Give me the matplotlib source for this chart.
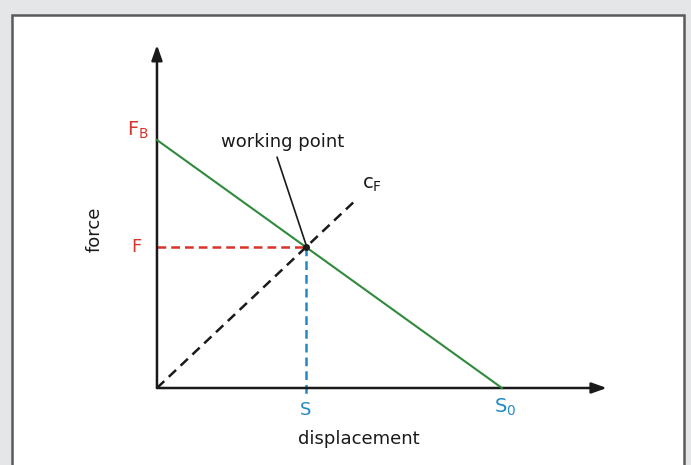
import matplotlib.pyplot as plt
from matplotlib.patches import Rectangle

# characteristic line values (normalised: F_B = 1, s_0 = 1)
f_block = 1.0
s_zero = 1.0
s_work = 0.432
f_work = 0.568
cf_end = 0.574          # where the dashed spring line c_F stops
axis_x_end = 1.304
axis_y_end = 1.383
pointer_start = (0.348, 0.931)   # upper end of the "working point" pointer

red = "#d9342b"
green = "#2f8a3c"
blue = "#2389c4"
ink = "#1a1a1a"

fig = plt.figure(figsize=(6.91, 4.65), dpi=100, facecolor="#e5e6e8")
ax = fig.add_axes([0, 0, 1, 1])
ax.set_xlim(-0.455, 1.548)
ax.set_ylim(-0.3105, 1.5645)
ax.axis("off")

# white panel with dark border
panel = Rectangle((12 / 691, -0.05), 672 / 691, 1.05 - 15 / 465,
                  transform=fig.transFigure, facecolor="white",
                  edgecolor="#5a5a5c", linewidth=1.8, zorder=0,
                  clip_on=False)
ax.add_patch(panel)

# axes arrows
arrow_kw = dict(arrowstyle="-|>,head_length=0.9,head_width=0.32",
                color=ink, lw=1.8, shrinkA=0, shrinkB=0)
ax.annotate("", xy=(axis_x_end, 0), xytext=(0, 0), arrowprops=arrow_kw)
ax.annotate("", xy=(0, axis_y_end), xytext=(0, 0), arrowprops=arrow_kw)

# characteristic (green) and spring line (black dashed)
ax.plot([0, s_zero], [f_block, 0], color=green, lw=1.5, zorder=3)
slope = f_work / s_work
ax.plot([0, cf_end], [0, cf_end * slope], color=ink, lw=1.8,
        ls=(0, (4, 2.5)), zorder=3)

# projections of the working point
ax.plot([0, s_work], [f_work, f_work], color=red, lw=1.8,
        ls=(0, (3.5, 2)), zorder=2)
ax.plot([s_work, s_work], [f_work, -0.028], color=blue, lw=1.8,
        ls=(0, (3.5, 2)), zorder=2)
ax.plot([s_work], [f_work], marker="o", ms=4, color=ink, zorder=4)

# working point pointer
ax.annotate("", xy=(s_work, f_work + 0.01), xytext=pointer_start,
            arrowprops=dict(arrowstyle="-", color=ink, lw=1.2,
                            shrinkA=0, shrinkB=0))
ax.text(pointer_start[0] + 0.017, pointer_start[1] + 0.06, "working point",
        ha="center", va="center", fontsize=13, color=ink)

# labels
ax.text(-0.025, f_block + 0.04, r"F$_\mathregular{B}$", color=red, fontsize=14,
        ha="right", va="center")
ax.text(-0.045, f_work, "F", color=red, fontsize=13, ha="right", va="center")
ax.text(s_work, -0.09, "S", color=blue, fontsize=13, ha="center", va="center")
ax.text(s_zero + 0.01, -0.08, r"S$_\mathregular{0}$", color=blue, fontsize=14,
        ha="center", va="center")
ax.text(cf_end + 0.02, cf_end * slope + 0.065, r"c$_\mathregular{F}$",
        color=ink, fontsize=14, ha="left", va="center")
ax.text(0.586, -0.205, "displacement", fontsize=13, color=ink,
        ha="center", va="center")
ax.text(-0.18, 0.64, "force", fontsize=13, color=ink,
        ha="center", va="center", rotation=90)

fig.savefig("out.png", dpi=100, facecolor=fig.get_facecolor())
